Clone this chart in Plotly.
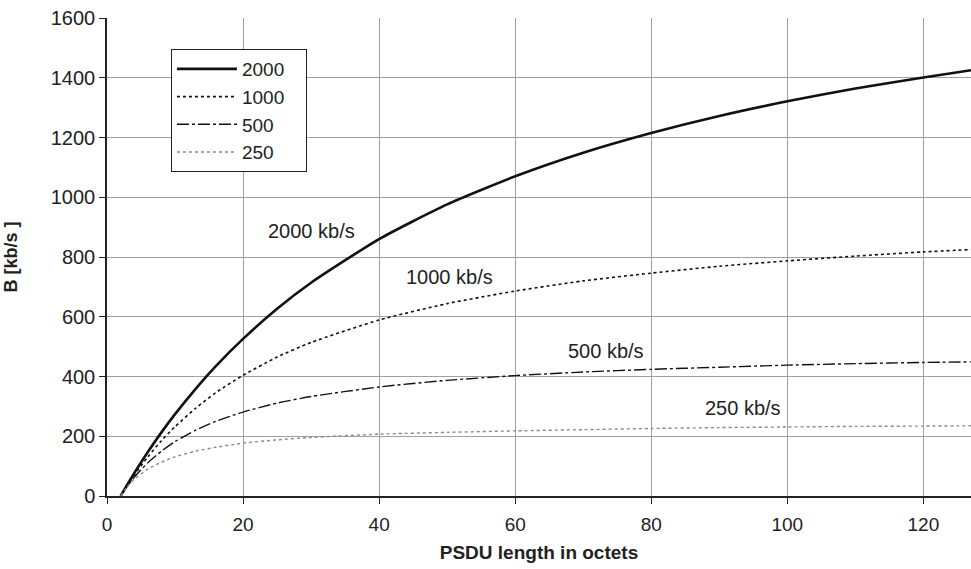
import plotly.graph_objects as go

# PSDU length (octets)
psdu_len = [2, 3, 4, 6, 8, 10, 13, 16, 20, 25, 30, 40, 50, 60, 70, 80, 90, 100, 110, 120, 127]

# Throughput B in kb/s
b_2000 = [0, 39, 76, 147, 213, 274, 358, 435, 526, 627, 714, 860, 976, 1070, 1149, 1215, 1272, 1321, 1364, 1401, 1425]
b_1000 = [0, 36, 70, 131, 185, 232, 293, 346, 404, 465, 514, 589, 644, 686, 720, 746, 769, 787, 803, 817, 825]
b_500 = [0, 33, 63, 111, 150, 182, 220, 250, 281, 311, 333, 365, 387, 403, 415, 424, 431, 438, 443, 447, 449]
b_250 = [0, 31, 56, 90, 113, 131, 150, 163, 177, 188, 196, 207, 213, 218, 222, 226, 229, 231, 233, 234, 235]

series = [
    ("2000", b_2000, dict(color="#111111", width=2.6, dash="solid")),
    ("1000", b_1000, dict(color="#111111", width=1.6, dash="3px,3px")),
    ("500", b_500, dict(color="#111111", width=1.4, dash="12px,3px,3px,3px")),
    ("250", b_250, dict(color="#8a8a8a", width=1.4, dash="dot")),
]

labels = [
    (30.0, 887, "2000 kb/s"),
    (50.3, 733, "1000 kb/s"),
    (73.3, 487, "500 kb/s"),
    (93.5, 296, "250 kb/s"),
]

FONT = "Liberation Sans, Arial, sans-serif"
PAD = "&nbsp;" * 3  # widen the legend box like the original

fig = go.Figure()
for name, ys, line in series:
    fig.add_trace(
        go.Scatter(
            x=psdu_len,
            y=ys,
            mode="lines",
            name=name + PAD,
            line=dict(shape="spline", smoothing=0.6, **line),
        )
    )

for x, y, text in labels:
    fig.add_annotation(
        x=x, y=y, text=text, showarrow=False,
        font=dict(family=FONT, size=20, color="#222222"),
    )

fig.update_xaxes(
    range=[0, 127], tickmode="linear", tick0=0, dtick=20,
    showgrid=True, gridcolor="#a0a0a0", gridwidth=1,
    showline=True, linecolor="#222222", linewidth=1.5,
    ticks="outside", ticklen=6, tickcolor="#222222", ticklabelstandoff=4,
    zeroline=False, automargin=False,
    tickfont=dict(family=FONT, size=19, color="#222222"),
    title=dict(text="<b>PSDU length in octets</b>", font=dict(family=FONT, size=19, color="#222222"), standoff=12),
)
fig.update_yaxes(
    range=[0, 1600], tickmode="linear", tick0=0, dtick=200,
    showgrid=True, gridcolor="#a0a0a0", gridwidth=1,
    showline=True, linecolor="#222222", linewidth=1.5,
    ticks="outside", ticklen=6, tickcolor="#222222",
    zeroline=False, automargin=False,
    tickfont=dict(family=FONT, size=20, color="#222222"),
    title=dict(text="<b>B [kb/s ]</b>", font=dict(family=FONT, size=18, color="#222222"), standoff=28),
)

fig.update_layout(
    width=971, height=569,
    margin=dict(l=107, r=0, t=18, b=73),
    plot_bgcolor="white", paper_bgcolor="white",
    showlegend=True,
    legend=dict(
        x=0.074, y=0.935, xanchor="left", yanchor="top",
        bordercolor="#222222", borderwidth=1, bgcolor="white",
        font=dict(family=FONT, size=19, color="#222222"),
        tracegroupgap=0, itemwidth=60,
    ),
)

# drop the default page margin so the figure sits at the window's corner
fig.write_html(
    "out.html",
    config={"displayModeBar": False},
    post_script="document.body.style.margin='0';",
)
